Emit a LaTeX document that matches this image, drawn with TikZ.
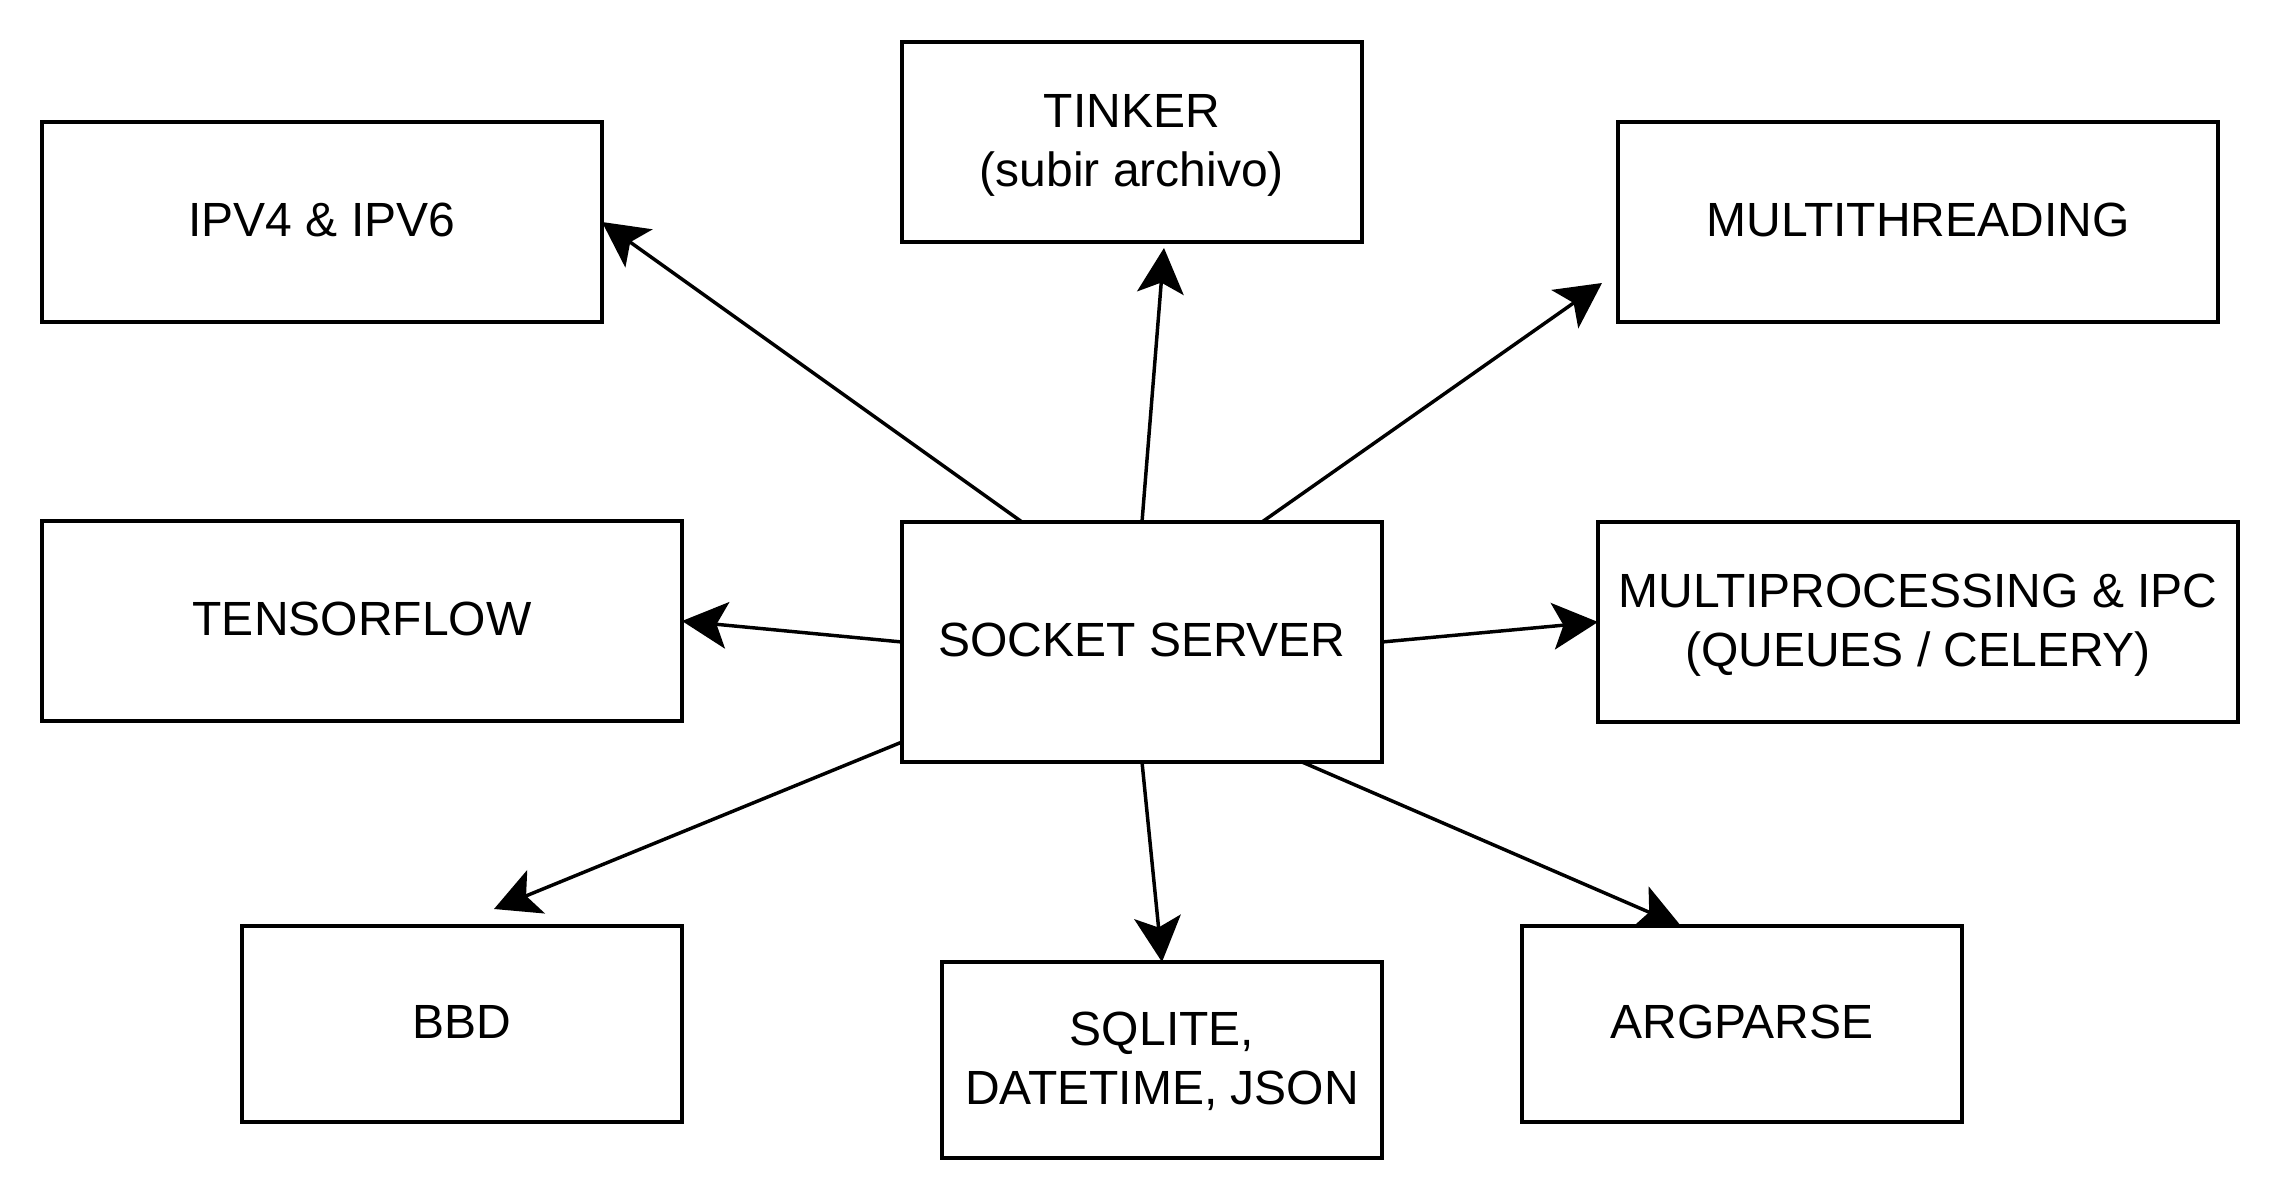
\documentclass[tikz,border=0pt]{standalone}
\usepackage{fontspec}
\setmainfont{Liberation Sans}
\usetikzlibrary{arrows.meta,calc,backgrounds}
\newcommand\mystrut{\rule[-5.6pt]{0pt}{22.1pt}}
\begin{document}
\begin{tikzpicture}[x=0.375pt,y=-0.375pt,
  bx/.style n args={2}{draw=black, line width=1.3pt, fill=white, inner sep=0pt, outer sep=0pt,
     minimum width=#1*0.375pt, minimum height=#2*0.375pt, align=center,
     font=\fontsize{18pt}{22.1pt}\selectfont},
  conn/.style={draw=black, line width=1.3pt, -{Stealth[length=17pt,width=17.5pt,inset=4pt]}}]
\useasboundingbox (0,0) rectangle (2280,1200);
\node[bx={560}{200}] (ipv) at (322,222) {\mystrut IPV4 \& IPV6};
\node[bx={460}{200}] (tink) at (1132,142) {\mystrut TINKER\\\mystrut (subir archivo)};
\node[bx={600}{200}] (mth) at (1918,222) {\mystrut MULTITHREADING};
\node[bx={640}{200}] (tf) at (362,621) {\mystrut TENSORFLOW};
\node[bx={480}{240}] (sock) at (1142,642) {\mystrut SOCKET SERVER};
\node[bx={640}{200}] (mp) at (1918,622) {\mystrut MULTIPROCESSING \& IPC\\\mystrut (QUEUES / CELERY)};
\node[bx={440}{196}] (bbd) at (462,1024) {\mystrut BBD};
\node[bx={440}{196}] (sql) at (1162,1060) {\mystrut SQLITE,\\\mystrut DATETIME, JSON};
\node[bx={440}{196}] (arg) at (1742,1024) {\mystrut ARGPARSE};
\begin{scope}[on background layer]
\fill[white] (0,0) rectangle (2280,1200);
\draw[conn] ($(sock.north)+(-120,0)$) -- (ipv.east);
\draw[conn] (sock.north) -- ($(tink.south)+(32,6)$);
\draw[conn] ($(sock.north)+(120,0)$) -- ($(mth.south west)+(-16,-39)$);
\draw[conn] (sock.west) -- (tf.east);
\draw[conn] (sock.east) -- (mp.west);
\draw[conn] ($(sock.south west)+(0,-20)$) -- ($(bbd.north)+(32,-17)$);
\draw[conn] (sock.south) -- (sql.north);
\draw[conn] ($(sock.south)+(160,0)$) -- ($(arg.north)+(-61,0)$);
\end{scope}
\end{tikzpicture}
\end{document}
